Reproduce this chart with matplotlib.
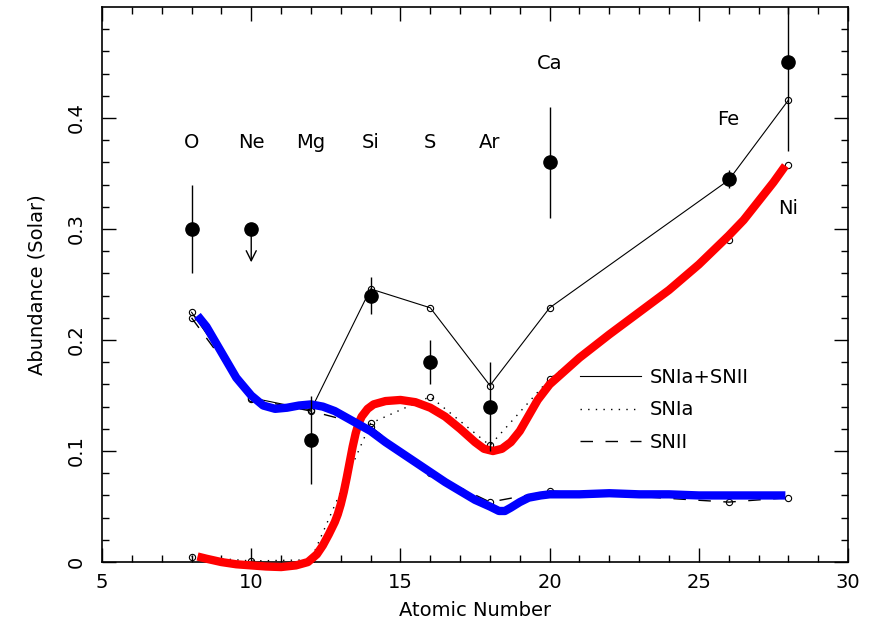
#
#  Abundance pattern: observed values vs SNIa / SNII model mix
#
################################################################

import numpy as np
import matplotlib
matplotlib.use("Agg")
import matplotlib.pylab as plt

#  elements
elem = ["O", "Ne", "Mg", "Si", "S", "Ar", "Ca", "Fe", "Ni"]
z = [8, 10, 12, 14, 16, 18, 20, 26, 28]

#  observed abundances (Ne is an upper limit)
obs = [0.30, 0.30, 0.11, 0.24, 0.18, 0.14, 0.36, 0.345, 0.45]
obs_err = [0.04, 0.0, 0.04, 0.017, 0.02, 0.04, 0.05, 0.008, 0.08]
ne_limit = 0.27

#  model contributions
snia = [0.005, 0.001, 0.002, 0.125, 0.149, 0.105, 0.165, 0.290, 0.358]
snii = [0.220, 0.147, 0.136, 0.122, 0.080, 0.054, 0.064, 0.054, 0.058]
total = [0.225, 0.148, 0.137, 0.246, 0.229, 0.159, 0.229, 0.344, 0.416]

#  smooth SNIa curve (red)
red_x = [8.2, 8.5, 9.0, 9.5, 10.0, 10.5, 11.0, 11.5, 11.9, 12.2, 12.4, 12.6,
         12.8, 12.9, 13.0, 13.1, 13.2, 13.3, 13.4, 13.5, 13.6, 13.7, 13.9,
         14.1, 14.5, 15.0, 15.5, 16.0, 16.5, 17.0, 17.5, 17.8, 18.1, 18.4,
         18.7, 19.0, 19.3, 19.6, 20.0, 20.5, 21.0, 22.0, 23.0, 24.0, 25.0,
         26.0, 26.5, 27.0, 27.5, 27.9]
red_y = [0.005, 0.003, 0.000, -0.002, -0.003, -0.004, -0.0045, -0.003, 0.000,
         0.007, 0.015, 0.025, 0.036, 0.043, 0.052, 0.063, 0.076, 0.090, 0.104,
         0.116, 0.125, 0.131, 0.138, 0.142, 0.145, 0.146, 0.144, 0.139, 0.131,
         0.120, 0.108, 0.102, 0.100, 0.102, 0.108, 0.118, 0.132, 0.146, 0.160,
         0.172, 0.184, 0.205, 0.225, 0.245, 0.268, 0.294, 0.308, 0.325, 0.342,
         0.357]

#  smooth SNII curve (blue)
blue_x = [8.2, 8.5, 9.0, 9.5, 10.0, 10.4, 10.8, 11.2, 11.6, 12.0, 12.4, 12.8,
          13.2, 13.6, 14.0, 14.5, 15.0, 15.5, 16.0, 16.5, 17.0, 17.5, 18.0,
          18.3, 18.5, 18.7, 19.0, 19.3, 19.7, 20.0, 21.0, 22.0, 23.0, 24.0,
          25.0, 26.0, 27.0, 27.9]
blue_y = [0.222, 0.212, 0.189, 0.166, 0.150, 0.141, 0.138, 0.139, 0.141, 0.142,
          0.140, 0.136, 0.130, 0.124, 0.118, 0.108, 0.099, 0.090, 0.081, 0.072,
          0.064, 0.056, 0.050, 0.046, 0.046, 0.049, 0.054, 0.058, 0.060, 0.061,
          0.061, 0.062, 0.061, 0.061, 0.060, 0.060, 0.060, 0.060]

#  where the element names sit
name_y = [0.378, 0.378, 0.378, 0.378, 0.378, 0.378, 0.449, 0.399, 0.318]

xticks = [5, 10, 15, 20, 25, 30]
yticks = [0, 0.1, 0.2, 0.3, 0.4]
ytick_labels = ["0", "0.1", "0.2", "0.3", "0.4"]

fs = 14
fig = plt.figure(figsize=(8.75, 6.28), dpi=100)
ax = fig.add_axes([0.1166, 0.105, 0.8526, 0.884])

#  model lines
ax.plot(z, total, color='k', lw=0.8, label="SNIa+SNII", zorder=2)
ax.plot(z, snia, color='k', lw=1.0, ls=(0, (1, 4.5)), label="SNIa", zorder=2)
ax.plot(z, snii, color='k', lw=1.0, ls=(0, (9, 9)), label="SNII", zorder=2)
for v in (total, snia, snii):
    ax.plot(z, v, ls='none', marker='o', ms=4.5, mfc='none', mec='k',
            mew=0.8, zorder=2)

#  fitted curves
ax.plot(red_x, red_y, color='#ff0000', lw=6, solid_capstyle='butt',
        solid_joinstyle='round', clip_on=False, zorder=3)
ax.plot(blue_x, blue_y, color='#0000ff', lw=6, solid_capstyle='butt',
        solid_joinstyle='round', zorder=3)

#  observations
ax.errorbar(z, obs, yerr=obs_err, fmt='o', color='k', ms=9.5, elinewidth=1.0,
            capsize=0, zorder=4)
i = elem.index("Ne")
ax.annotate("", xy=(z[i], ne_limit), xytext=(z[i], obs[i]),
            arrowprops=dict(arrowstyle='->', color='k', lw=1.0,
                            mutation_scale=18, shrinkA=0, shrinkB=0),
            zorder=4)

#  element names
for n, x, y in zip(elem, z, name_y):
    ax.text(x, y, n, ha='center', va='center', fontsize=fs)

#  axes
ax.set_xlim(5, 30)
ax.set_ylim(0, 0.5)
ax.set_xticks(xticks)
ax.set_xticks(np.arange(5, 31, 1), minor=True)
ax.set_yticks(yticks)
ax.set_yticklabels(ytick_labels)
ax.set_yticks(np.arange(0, 0.5, 0.02), minor=True)
ax.tick_params(which='both', direction='in', top=True, right=True,
               labelsize=fs, width=1.0)
ax.tick_params(which='major', length=10, pad=8)
ax.tick_params(which='minor', length=5)
ax.tick_params(axis='y', labelrotation=90, pad=12)
for t in ax.get_yticklabels():
    t.set_va('center')
for s in ax.spines.values():
    s.set_linewidth(1.2)

ax.set_xlabel("Atomic Number", fontsize=fs, labelpad=6)
ax.set_ylabel("Abundance (Solar)", fontsize=fs, labelpad=14)

ax.legend(loc='upper left', bbox_to_anchor=(0.641, 0.35), frameon=False,
          fontsize=fs, handlelength=3.1, handletextpad=0.5, labelspacing=0.7,
          borderpad=0, borderaxespad=0)

plt.savefig("out.png", dpi=100)
